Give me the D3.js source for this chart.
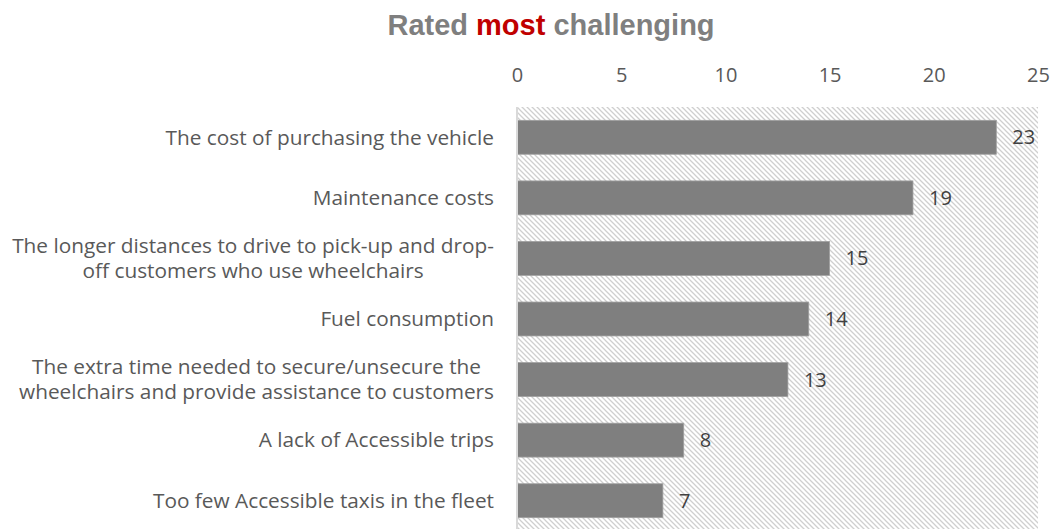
<!DOCTYPE html>
<html>
<head>
<meta charset="utf-8">
<script src="https://cdn.jsdelivr.net/npm/d3@7"></script>
<style>
  html, body { margin: 0; padding: 0; background: #ffffff; }
  svg { display: block; }
</style>
</head>
<body>
<svg id="chart" width="1053" height="529"></svg>
<script>
// Challenges rated most difficult, count of respondents
const categories = [
  "The cost of purchasing the vehicle",
  "Maintenance costs",
  "The longer distances to drive to pick-up and drop-|off customers who use wheelchairs",
  "Fuel consumption",
  "The extra time needed to secure/unsecure the|wheelchairs and provide assistance to customers",
  "A lack of Accessible trips",
  "Too few Accessible taxis in the fleet"
];
const values = [23, 19, 15, 14, 13, 8, 7];
const tickValues = [0, 5, 10, 15, 20, 25];

const svg = d3.select("#chart");
const margin = { top: 107, left: 517, right: 15, bottom: -2 };
const W = 1053, H = 529;
const bodyFont = "'Open Sans', Lato, sans-serif";

const x = d3.scaleLinear().domain([0, 25]).range([margin.left, W - margin.right]);
const y = d3.scaleBand().domain(categories).range([margin.top, H - margin.bottom]).paddingInner(0.44).paddingOuter(0.22);

// Diagonal hatch fill for the plot background
const defs = svg.append("defs");
const pat = defs.append("pattern")
  .attr("id", "hatch")
  .attr("patternUnits", "userSpaceOnUse")
  .attr("width", 5).attr("height", 5);
pat.append("path")
  .attr("d", "M-1,-1 L6,6 M-1,4 L1,6 M4,-1 L6,1")
  .attr("stroke", "#cfcfcf")
  .attr("stroke-width", 1.3);

svg.append("rect")
  .attr("x", x(0)).attr("y", margin.top)
  .attr("width", x(25) - x(0)).attr("height", H - margin.top)
  .attr("fill", "url(#hatch)");

// Title
const title = svg.append("text")
  .attr("x", 551).attr("y", 35)
  .attr("text-anchor", "middle")
  .attr("font-family", "Liberation Sans, Arial, sans-serif")
  .attr("font-weight", "bold")
  .attr("font-size", 29)
  .attr("fill", "#7f7f7f");
title.append("tspan").text("Rated ");
title.append("tspan").attr("fill", "#c00000").text("most");
title.append("tspan").text(" challenging");

// Top value axis
const xAxis = d3.axisTop(x).tickValues(tickValues).tickSize(0).tickPadding(0);
const gx = svg.append("g").attr("transform", "translate(0,82)").call(xAxis);
gx.select(".domain").remove();
gx.selectAll("text")
  .attr("font-family", bodyFont)
  .attr("font-size", 20)
  .attr("fill", "#595959");

// Bars
svg.selectAll("rect.bar").data(values).join("rect")
  .attr("class", "bar")
  .attr("x", x(0))
  .attr("y", (d, i) => y(categories[i]))
  .attr("width", d => x(d) - x(0))
  .attr("height", y.bandwidth())
  .attr("fill", "#7f7f7f")
  .attr("stroke", "#a0a0a0")
  .attr("stroke-width", 0.8);

// Left category axis line
svg.append("line")
  .attr("x1", x(0)).attr("x2", x(0))
  .attr("y1", margin.top).attr("y2", H)
  .attr("stroke", "#d9d9d9").attr("stroke-width", 2);

// Category labels (wrapped at "|")
const lab = svg.append("g");
categories.forEach((c, i) => {
  const lines = c.split("|");
  const cy = y(c) + y.bandwidth() / 2;
  const lh = 25;
  const t = lab.append("text")
    .attr("text-anchor", "middle")
    .attr("font-family", bodyFont)
    .attr("font-size", 20.8)
    .attr("fill", "#595959");
  lines.forEach((l, k) => {
    t.append("tspan")
      .attr("x", 0)
      .attr("y", cy + (k - (lines.length - 1) / 2) * lh)
      .attr("dy", "0.35em")
      .text(l);
  });
  // right-align the block, centre multi-line text within it
  const bb = t.node().getBBox();
  const right = 494;
  t.attr("transform", `translate(${right - bb.width / 2},0)`);
  if (lines.length === 1) {
    t.attr("text-anchor", "end").attr("transform", null);
    t.selectAll("tspan").attr("x", right);
  }
});

// Value labels
svg.selectAll("text.val").data(values).join("text")
  .attr("class", "val")
  .attr("x", d => x(d) + 16)
  .attr("y", (d, i) => y(categories[i]) + y.bandwidth() / 2)
  .attr("dy", "0.35em")
  .attr("font-family", bodyFont)
  .attr("font-size", 20)
  .attr("fill", "#404040")
  .text(d => d);
</script>
</body>
</html>
